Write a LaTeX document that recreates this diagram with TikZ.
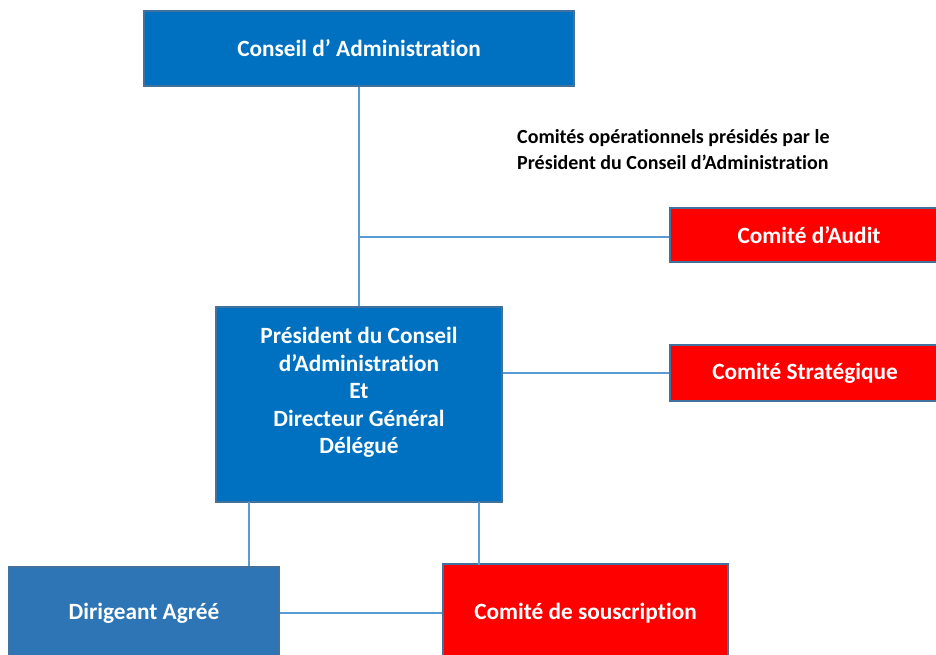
\documentclass[tikz,border=0pt]{standalone}
\usepackage{fontspec}
\setmainfont[RawFeature=-liga]{Carlito}
\definecolor{bluefill}{HTML}{0070C0}
\definecolor{bluefilltwo}{HTML}{2E75B6}
\definecolor{boxborder}{HTML}{41719C}
\definecolor{linkblue}{HTML}{5B9BD5}
\definecolor{redfill}{HTML}{FF0000}
\tikzset{
  boxbase/.style={draw=boxborder, line width=1.4pt, inner sep=0pt, text=white,
    font=\fontsize{23.3}{27}\selectfont\bfseries, align=center},
  bluebox/.style={boxbase, fill=bluefill},
  blueboxtwo/.style={boxbase, fill=bluefilltwo},
  redbox/.style={boxbase, fill=redfill},
  link/.style={draw=linkblue, line width=1.8pt},
}
\begin{document}
\begin{tikzpicture}[x=1pt,y=-1pt]
\clip (0,0) rectangle (936,654);
\useasboundingbox (0,0) rectangle (936,654);
\fill[white] (0,0) rectangle (936,654);
% boxes
\node[bluebox, minimum width=430pt, minimum height=75pt] (ca) at (359,48.5) {Conseil d’ Administration};
\node[redbox, minimum width=278pt, minimum height=54pt] (audit) at (809,235) {Comité d’Audit};
\node[redbox, minimum width=270pt, minimum height=56pt] (strat) at (805,373) {Comité Stratégique};
\node[bluebox, minimum width=286pt, minimum height=195pt] (pdg) at (359,404.5) {};
\node[text=white, font=\fontsize{23.3}{27.6}\selectfont\bfseries, align=center, inner sep=0pt] (pdgtext) at (359,392.5)
  {Président du Conseil\\d’Administration\\Et\\Directeur Général\\Délégué};
\node[blueboxtwo, minimum width=270pt, minimum height=92pt] (dir) at (144,613) {Dirigeant Agréé};
\node[redbox, minimum width=285pt, minimum height=98pt] (sous) at (585.5,613) {Comité de souscription};
% caption
\node[anchor=north west, align=left, inner sep=0pt, text=black,
  font=\fontsize{20}{26}\selectfont\bfseries] (note) at (517,129.5)
  {Comités opérationnels présidés par le\\Président du Conseil d’Administration};
% connectors
\coordinate (j) at (359,237);
\coordinate (d1) at (249,502);
\coordinate (s1) at (479,502);
\draw[link] (ca.south) -- (pdg.north);
\draw[link] (j) -- (j -| audit.west);
\draw[link] (strat.west -| pdg.east) -- (strat.west);
\draw[link] (d1) -- (d1 |- dir.north);
\draw[link] (s1) -- ([yshift=-2pt]s1 |- sous.north);
\draw[link] (dir.east) -- (sous.west);
\end{tikzpicture}
\end{document}
